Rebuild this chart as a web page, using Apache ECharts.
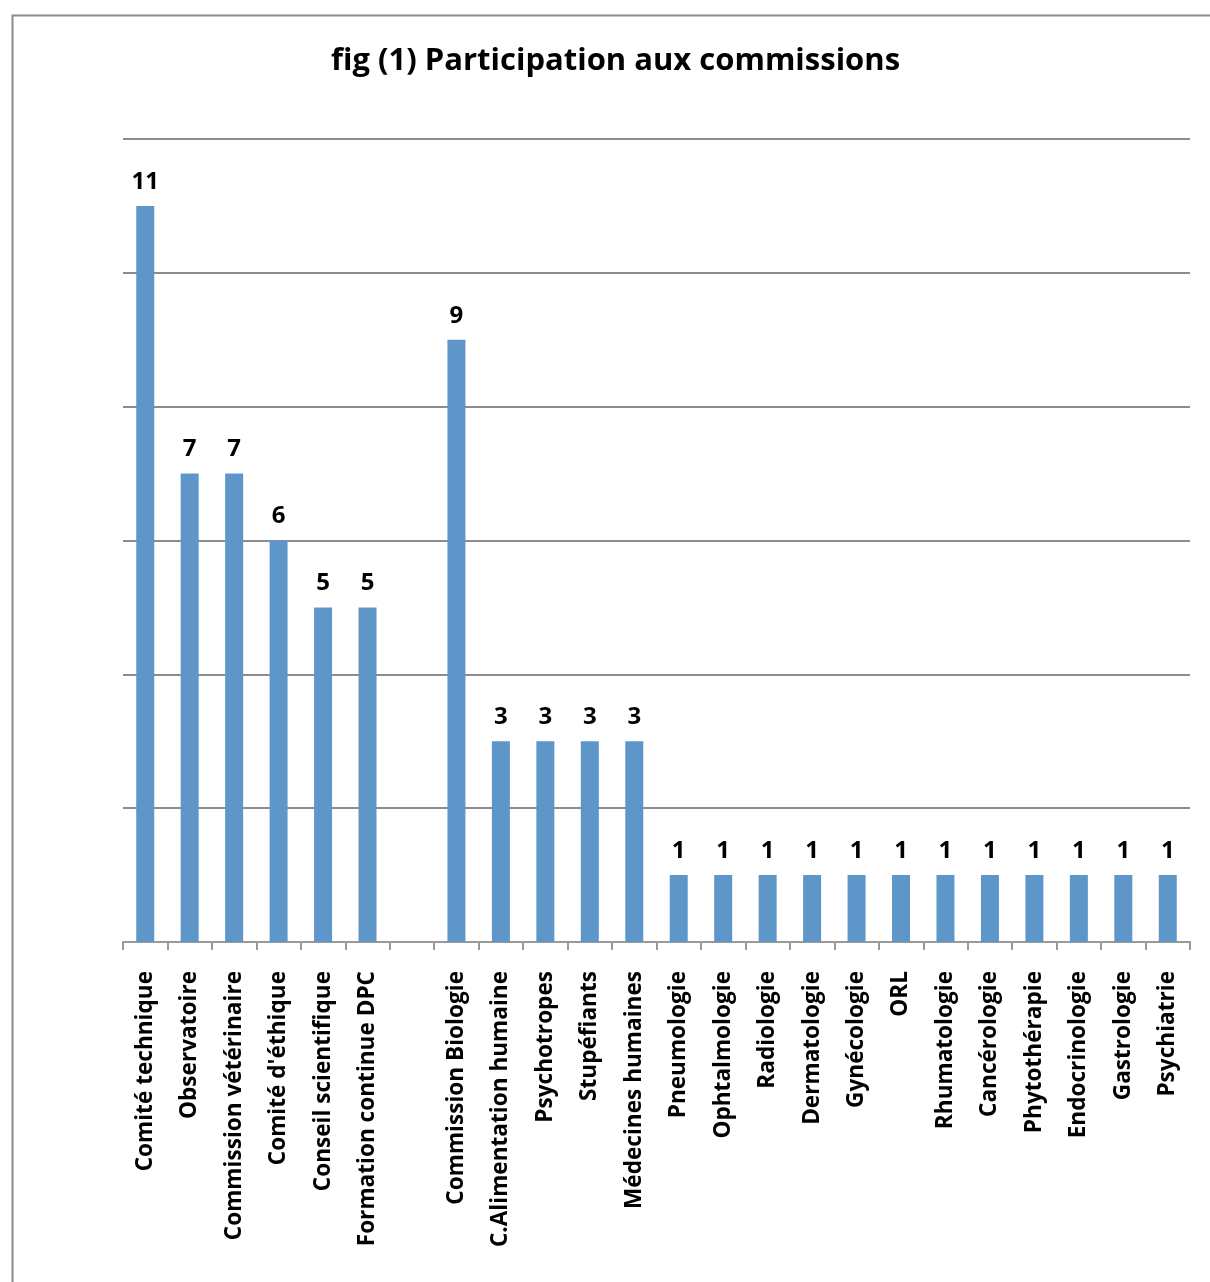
<!DOCTYPE html>
<html><head><meta charset="utf-8">
<script src="https://cdn.jsdelivr.net/npm/echarts@6/dist/echarts.min.js"></script>
<style>html,body{margin:0;padding:0;background:#fff}#c{width:1210px;height:1282px}</style>
</head><body><div id="c"></div>
<script>
const categories = ["Comité technique","Observatoire","Commission vétérinaire","Comité d'éthique","Conseil scientifique","Formation continue DPC","","Commission Biologie","C.Alimentation humaine","Psychotropes","Stupéfiants","Médecines humaines","Pneumologie","Ophtalmologie","Radiologie","Dermatologie","Gynécologie","ORL","Rhumatologie","Cancérologie","Phytothérapie","Endocrinologie","Gastrologie","Psychiatrie"];
const values = [11,7,7,6,5,5,null,9,3,3,3,3,1,1,1,1,1,1,1,1,1,1,1,1];
const titleText = "fig (1) Participation aux commissions";
const FONT = "'Open Sans', sans-serif";
const chart = echarts.init(document.getElementById('c'));
chart.setOption({
  animation:false,
  backgroundColor:'#fff',
  graphic:[{type:'rect',left:10,top:13,shape:{width:1300,height:1400},style:{fill:'none',stroke:'#8a8a8a',lineWidth:2}}],
  title:{text:titleText,left:326,top:41,textStyle:{fontFamily:FONT,fontWeight:'bold',fontSize:31,color:'#000'}},
  grid:{left:123,right:20,top:139,bottom:340,containLabel:false},
  xAxis:{type:'category',data:categories,boundaryGap:true,
    axisLine:{lineStyle:{color:'#9a9a9a',width:2}},
    axisTick:{show:true,length:8,alignWithLabel:false,interval:0,lineStyle:{color:'#9a9a9a',width:2}},
    axisLabel:{interval:0,rotate:90,margin:29,fontFamily:FONT,fontWeight:'bold',fontSize:22.6,color:'#000'}},
  yAxis:{type:'value',min:0,max:12,interval:2,
    axisLine:{show:false},axisTick:{show:false},axisLabel:{show:false},
    splitLine:{lineStyle:{color:'#8c8c8c',width:2}}},
  series:[{type:'bar',data:values,barWidth:18,itemStyle:{color:'#5f96ca'},
    label:{show:true,position:'top',distance:12,fontFamily:FONT,fontWeight:'bold',fontSize:24,color:'#000'}}]
});
</script></body></html>
